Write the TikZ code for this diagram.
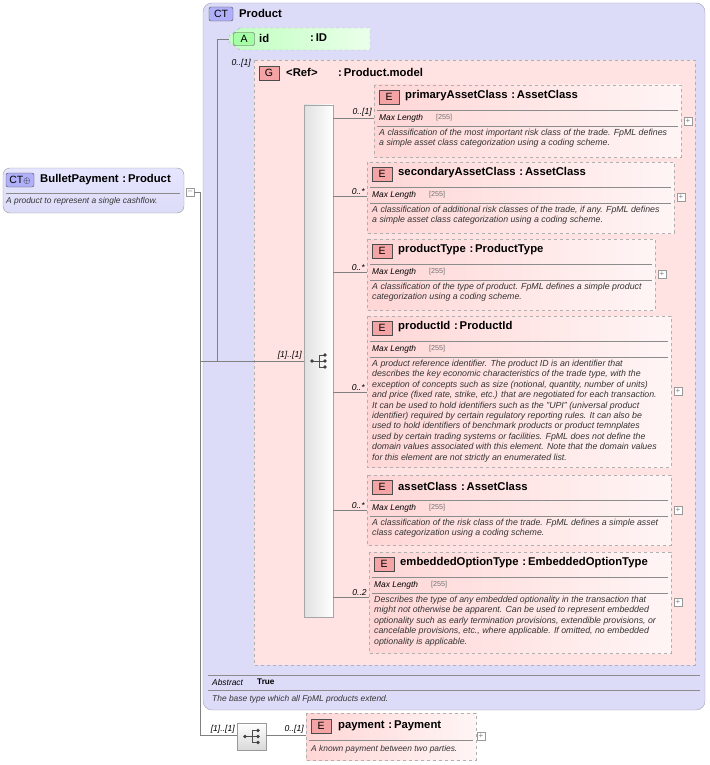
\documentclass[tikz,border=0pt]{standalone}
\usepackage{fontspec}
\setmainfont{Liberation Sans}
\usetikzlibrary{calc}
\definecolor{ctfill}{HTML}{DCDCF8}
\definecolor{ctline}{HTML}{A0A0B8}
\definecolor{gfill}{HTML}{FFE2E2}
\definecolor{dash}{HTML}{B0B0B0}
\definecolor{epink}{HTML}{FFD6D6}
\definecolor{badge}{HTML}{F4A4A4}
\definecolor{conn}{HTML}{808080}
\tikzset{
  ebox/.style={draw=dash,dashed,left color=epink,right color=white!96!red},
  badgebox/.style={draw=black!70,fill=badge,minimum width=20pt,minimum height=14pt,inner sep=0pt,font=\fontsize{10.5}{11}\selectfont},
  ttl/.style={font=\bfseries\fontsize{11.3}{13}\selectfont,anchor=west,inner sep=0pt},
  sml/.style={font=\itshape\fontsize{8.4}{10}\selectfont,anchor=west,inner sep=0pt},
  desc/.style={font=\itshape\fontsize{8.8}{10.4}\selectfont,anchor=north west,inner sep=0pt,align=left,text=black!80},
  lbl/.style={font=\itshape\fontsize{8.6}{9}\selectfont,anchor=south east,inner sep=1pt},
  cn/.style={draw=conn,line width=0.6pt},
  plusbox/.style={draw=black!40,fill=white,minimum size=8pt,inner sep=0pt,font=\fontsize{8}{8}\selectfont,text=black!50},
  sep/.style={draw=black!45,line width=0.5pt}
}
% #1 name #2 x1 #3 y1 #4 x2 #5 y2 #6 title #7 connector y #8 label #9 desc
\newcommand\elbox[9]{%
  \path[ebox] (#2,#3) rectangle (#4,#5);
  \node[badgebox] (#1b) at (#2+15,#3+12) {E};
  \node[ttl] (#1t) at (#2+31,#3+11) {#6};
  \draw[sep] (#2+3,#3+25) -- (#4-3,#3+25);
  \node[sml] (#1m) at (#2+5,#3+33) {Max Length};
  \node[sml,font=\fontsize{7.2}{8}\selectfont,text=black!55] at (#2+62,#3+33) {[255]};
  \draw[sep] (#2+3,#3+41) -- (#4-3,#3+41);
  \node[desc] (#1d) at (#2+5,#3+44) {#9};
  \node[plusbox] (#1p) at (#4+7,{(#3+#5)/2}) {+};
  \coordinate (#1c) at (#2,#7);
  \draw[cn] (seq.east |- #1c) -- (#1c) node[lbl,pos=1,xshift=-1pt] {#8};
}
\newcommand\seqicon{\tikz[x=1pt,y=-1pt]{\draw[black!70,line width=0.8pt] (-7,0)--(0,0) (0,-6)--(0,6) (0,-6)--(6,-6) (0,0)--(6,0) (0,6)--(6,6); \fill[black!75] (-7,0) circle(1.9) (6,-6) circle(1.9) (6,0) circle(1.9) (6,6) circle(1.9);}}
\begin{document}
\begin{tikzpicture}[x=1pt,y=-1pt]
\useasboundingbox (0,0) rectangle (709,765);
% CT Product
\path[draw=ctline,fill=ctfill,rounded corners=9pt] (203,3) rectangle (705,710);
\node[draw=black!70,fill=ctfill!80!blue,rounded corners=2pt,minimum width=24pt,minimum height=14pt,inner sep=0pt,font=\fontsize{10.5}{11}\selectfont] (ctb) at (221,14) {CT};
\node[ttl] (ctt) at (239,13) {Product};
\draw[sep] (208,675) -- (700,675);
\node[sml] (abs) at (212,682) {Abstract};
\node[ttl,font=\bfseries\fontsize{8.2}{9}\selectfont] (abv) at (257,682) {True};
\draw[sep] (208,690) -- (700,690);
\node[sml,text=black!80] (ctd) at (212,699) {The base type which all FpML products extend.};
% BulletPayment
\path[draw=black!40,top color=white!90!blue,bottom color=ctfill,rounded corners=7pt] (3,168) rectangle (184,213);
\node[draw=black!70,fill=ctfill!80!blue,rounded corners=2pt,minimum width=28pt,minimum height=14pt,inner sep=0pt,font=\fontsize{10.5}{11}\selectfont] (bpb) at (20,180) {CT\raisebox{0.3pt}{\fontsize{9}{9}\selectfont$\oplus$}};
\node[ttl] (bpt) at (40,180) {BulletPayment\,\,:\,Product};
\draw[sep] (6,193) -- (180,193);
\node[sml,text=black!80] (bpd) at (6,201) {A product to represent a single cashflow.};
\node[plusbox] (bpm) at (190,192) {--};
% attribute id
\path[draw=dash,dashed,left color=green!25,right color=white!92!green] (240,28) -- (370,28) -- (370,50) -- (240,50) -- (229,42) -- (229,36) -- cycle;
\node[draw=black!70,fill=green!35,rounded corners=2pt,minimum width=21pt,minimum height=13pt,inner sep=0pt,font=\fontsize{10.5}{11}\selectfont] (ab) at (244,39) {A};
\node[ttl] (idn) at (259,38) {id};
\node[ttl] (idt) at (310,38) {:\,ID};
% group
\path[draw=dash,dashed,fill=gfill] (254,60) rectangle (695,665);
\node[badgebox] (gb) at (269,73) {G};
\node[ttl] (gr) at (286,72) {<Ref>};
\node[ttl] (gt) at (338,72) {:\,Product.model};
% sequence bar
\path[draw=black!35,left color=black!12,right color=white] (304,105) rectangle (333,617);
\node[minimum width=29pt,inner sep=0pt] (seq) at (318.5,361) {};
\node[inner sep=0pt] (seqi) at (318.5,361) {\seqicon};
% main connectors
\coordinate (j0) at (200,192);
\coordinate (j1) at (200,361);
\coordinate (j2) at (200,735);
\draw[cn] (bpm.east) -- (j0) -- (j2);
\draw[cn] (j1) -- (304,361) node[lbl,pos=1,xshift=-1pt] {[1]..[1]};
\draw[cn] (217,361) -- (217,39) -- (229,39);
\node[lbl] at (252,68) {0..[1]};
% elements
\elbox{e1}{374}{85}{681}{157}{primaryAssetClass\,\,:\,AssetClass}{118}{0..[1]}{A classification of the most important risk class of the trade. FpML defines\\a simple asset class categorization using a coding scheme.}
\elbox{e2}{367}{162}{674}{233}{secondaryAssetClass\,\,:\,AssetClass}{196}{0..*}{A classification of additional risk classes of the trade, if any. FpML defines\\a simple asset class categorization using a coding scheme.}
\elbox{e3}{367}{239}{655}{310}{productType\,\,:\,ProductType}{272}{0..*}{A classification of the type of product. FpML defines a simple product\\categorization using a coding scheme.}
\elbox{e4}{367}{316}{671}{467}{productId\,\,:\,ProductId}{392}{0..*}{A product reference identifier. The product ID is an identifier that\\describes the key economic characteristics of the trade type, with the\\exception of concepts such as size (notional, quantity, number of units)\\and price (fixed rate, strike, etc.) that are negotiated for each transaction.\\It can be used to hold identifiers such as the "UPI" (universal product\\identifier) required by certain regulatory reporting rules. It can also be\\used to hold identifiers of benchmark products or product temnplates\\used by certain trading systems or facilities. FpML does not define the\\domain values associated with this element. Note that the domain values\\for this element are not strictly an enumerated list.}
\elbox{e5}{367}{475}{671}{545}{assetClass\,\,:\,AssetClass}{510}{0..*}{A classification of the risk class of the trade. FpML defines a simple asset\\class categorization using a coding scheme.}
\elbox{e6}{369}{552}{671}{653}{embeddedOptionType\,\,:\,EmbeddedOptionType}{597}{0..2}{Describes the type of any embedded optionality in the transaction that\\might not otherwise be apparent. Can be used to represent embedded\\optionality such as early termination provisions, extendible provisions, or\\cancelable provisions, etc., where applicable. If omitted, no embedded\\optionality is applicable.}
% bottom sequence
\path[draw=black!40,top color=white,bottom color=black!15] (237,723) rectangle (266,750);
\node[minimum width=29pt,minimum height=27pt,inner sep=0pt] (seq2) at (251.5,736.5) {\seqicon};
\draw[cn] (j2) -- (237,735) node[lbl,pos=1,xshift=-1pt] {[1]..[1]};
\path[ebox] (306,713) rectangle (476,760);
\node[badgebox] (pb) at (321,726) {E};
\node[ttl] (pt) at (338,726) {payment\,\,:\,Payment};
\draw[sep] (309,740) -- (473,740);
\node[sml,text=black!80] (pd) at (311,749) {A known payment between two parties.};
\node[plusbox] (pp) at (481,736) {+};
\draw[cn] (266,735) -- (306,735) node[lbl,pos=1,xshift=-1pt] {0..[1]};
\end{tikzpicture}
\end{document}
